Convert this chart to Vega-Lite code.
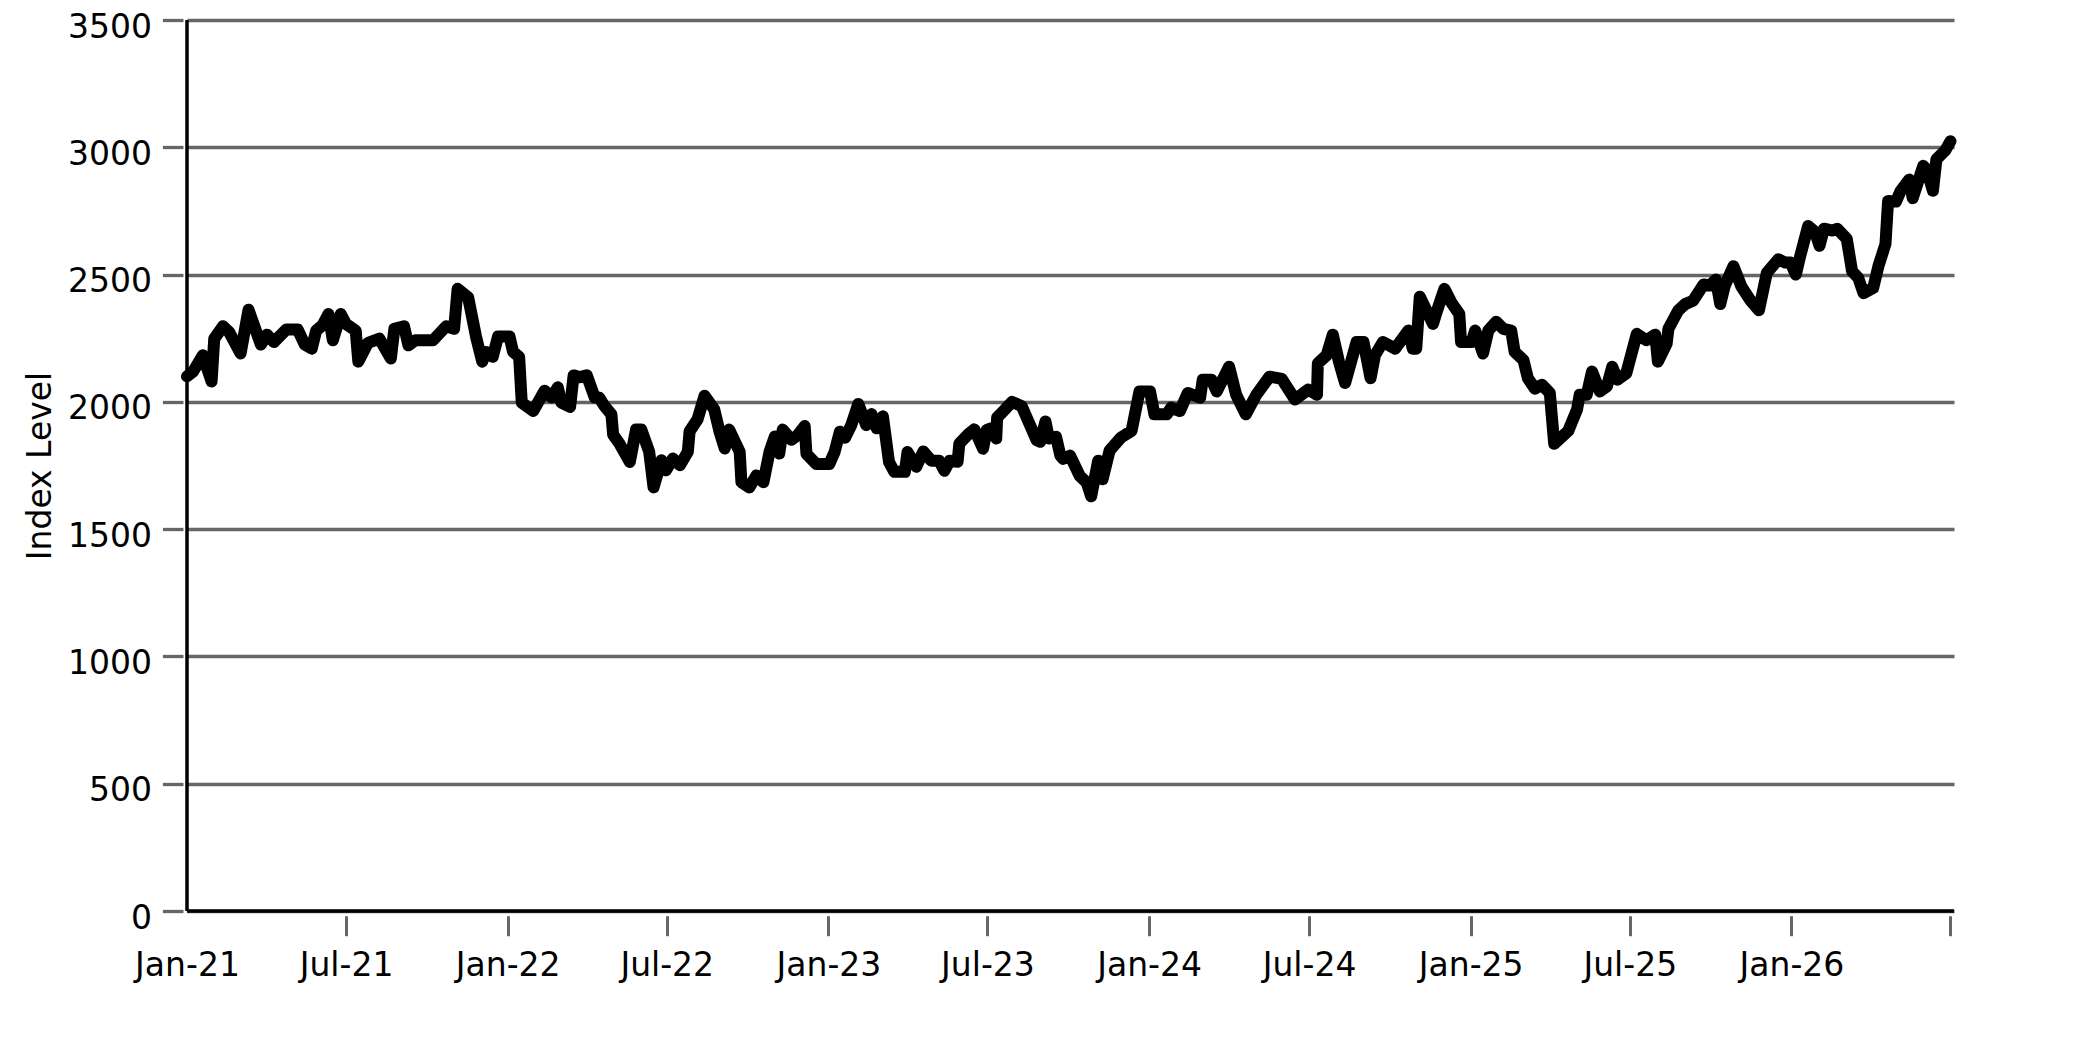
{
  "$schema": "https://vega.github.io/schema/vega-lite/v6.json",
  "width": 1767,
  "height": 891,
  "autosize": "none",
  "padding": {"left": 187, "top": 20, "right": 129, "bottom": 131},
  "config": {"font": "DejaVu Sans", "view": {"stroke": null}},
  "data": {
    "values": [
      {"date": "2021-01-01", "value": 2100}, {"date": "2021-01-08", "value": 2119}, {"date": "2021-01-19", "value": 2183},
      {"date": "2021-01-29", "value": 2080}, {"date": "2021-02-01", "value": 2248}, {"date": "2021-02-11", "value": 2297},
      {"date": "2021-02-18", "value": 2274}, {"date": "2021-03-03", "value": 2190}, {"date": "2021-03-12", "value": 2362},
      {"date": "2021-03-26", "value": 2225}, {"date": "2021-04-02", "value": 2264}, {"date": "2021-04-10", "value": 2235},
      {"date": "2021-04-24", "value": 2284}, {"date": "2021-05-07", "value": 2284}, {"date": "2021-05-15", "value": 2225},
      {"date": "2021-05-23", "value": 2209}, {"date": "2021-05-28", "value": 2280}, {"date": "2021-06-04", "value": 2300},
      {"date": "2021-06-11", "value": 2345}, {"date": "2021-06-16", "value": 2242}, {"date": "2021-06-25", "value": 2345},
      {"date": "2021-07-01", "value": 2306}, {"date": "2021-07-12", "value": 2280}, {"date": "2021-07-15", "value": 2158},
      {"date": "2021-07-26", "value": 2232}, {"date": "2021-08-08", "value": 2248}, {"date": "2021-08-21", "value": 2170},
      {"date": "2021-08-25", "value": 2287}, {"date": "2021-09-05", "value": 2297}, {"date": "2021-09-10", "value": 2222},
      {"date": "2021-09-18", "value": 2242}, {"date": "2021-10-08", "value": 2242}, {"date": "2021-10-23", "value": 2297},
      {"date": "2021-11-01", "value": 2287}, {"date": "2021-11-05", "value": 2444}, {"date": "2021-11-17", "value": 2410},
      {"date": "2021-11-26", "value": 2255}, {"date": "2021-12-03", "value": 2158}, {"date": "2021-12-07", "value": 2196},
      {"date": "2021-12-15", "value": 2177}, {"date": "2021-12-21", "value": 2257}, {"date": "2022-01-03", "value": 2257},
      {"date": "2022-01-07", "value": 2197}, {"date": "2022-01-14", "value": 2177}, {"date": "2022-01-17", "value": 1997},
      {"date": "2022-01-30", "value": 1964}, {"date": "2022-02-12", "value": 2044}, {"date": "2022-02-20", "value": 2017},
      {"date": "2022-02-27", "value": 2057}, {"date": "2022-03-03", "value": 1997}, {"date": "2022-03-13", "value": 1980},
      {"date": "2022-03-17", "value": 2104}, {"date": "2022-03-24", "value": 2097}, {"date": "2022-04-01", "value": 2104},
      {"date": "2022-04-10", "value": 2017}, {"date": "2022-04-15", "value": 2017}, {"date": "2022-04-21", "value": 1984},
      {"date": "2022-04-29", "value": 1951}, {"date": "2022-05-01", "value": 1871}, {"date": "2022-05-08", "value": 1837},
      {"date": "2022-05-20", "value": 1764}, {"date": "2022-05-27", "value": 1891}, {"date": "2022-06-02", "value": 1891},
      {"date": "2022-06-11", "value": 1804}, {"date": "2022-06-16", "value": 1664}, {"date": "2022-06-25", "value": 1771},
      {"date": "2022-06-30", "value": 1731}, {"date": "2022-07-08", "value": 1777}, {"date": "2022-07-16", "value": 1751},
      {"date": "2022-07-25", "value": 1804}, {"date": "2022-07-27", "value": 1884}, {"date": "2022-08-05", "value": 1931},
      {"date": "2022-08-13", "value": 2024}, {"date": "2022-08-24", "value": 1971}, {"date": "2022-08-30", "value": 1884},
      {"date": "2022-09-05", "value": 1817}, {"date": "2022-09-10", "value": 1891}, {"date": "2022-09-22", "value": 1804},
      {"date": "2022-09-24", "value": 1684}, {"date": "2022-10-03", "value": 1664}, {"date": "2022-10-11", "value": 1711},
      {"date": "2022-10-19", "value": 1684}, {"date": "2022-10-26", "value": 1804}, {"date": "2022-11-01", "value": 1864},
      {"date": "2022-11-06", "value": 1797}, {"date": "2022-11-10", "value": 1891}, {"date": "2022-11-20", "value": 1851},
      {"date": "2022-11-27", "value": 1869}, {"date": "2022-12-05", "value": 1905}, {"date": "2022-12-07", "value": 1796},
      {"date": "2022-12-18", "value": 1756}, {"date": "2023-01-02", "value": 1756}, {"date": "2023-01-08", "value": 1803},
      {"date": "2023-01-14", "value": 1883}, {"date": "2023-01-20", "value": 1859}, {"date": "2023-01-27", "value": 1909},
      {"date": "2023-02-04", "value": 1992}, {"date": "2023-02-13", "value": 1909}, {"date": "2023-02-19", "value": 1952},
      {"date": "2023-02-25", "value": 1896}, {"date": "2023-03-04", "value": 1943}, {"date": "2023-03-11", "value": 1763},
      {"date": "2023-03-17", "value": 1725}, {"date": "2023-03-29", "value": 1725}, {"date": "2023-04-01", "value": 1803},
      {"date": "2023-04-11", "value": 1745}, {"date": "2023-04-19", "value": 1805}, {"date": "2023-04-28", "value": 1769},
      {"date": "2023-05-07", "value": 1769}, {"date": "2023-05-13", "value": 1729}, {"date": "2023-05-19", "value": 1769},
      {"date": "2023-05-28", "value": 1765}, {"date": "2023-05-30", "value": 1836}, {"date": "2023-06-09", "value": 1872},
      {"date": "2023-06-16", "value": 1892}, {"date": "2023-06-26", "value": 1816}, {"date": "2023-06-30", "value": 1889},
      {"date": "2023-07-05", "value": 1896}, {"date": "2023-07-11", "value": 1856}, {"date": "2023-07-12", "value": 1939},
      {"date": "2023-07-19", "value": 1963}, {"date": "2023-07-29", "value": 2000}, {"date": "2023-08-09", "value": 1983},
      {"date": "2023-08-26", "value": 1849}, {"date": "2023-08-30", "value": 1843}, {"date": "2023-09-05", "value": 1923},
      {"date": "2023-09-09", "value": 1856}, {"date": "2023-09-17", "value": 1863}, {"date": "2023-09-22", "value": 1789},
      {"date": "2023-09-25", "value": 1776}, {"date": "2023-10-03", "value": 1789}, {"date": "2023-10-14", "value": 1709},
      {"date": "2023-10-22", "value": 1683}, {"date": "2023-10-27", "value": 1629}, {"date": "2023-11-04", "value": 1769},
      {"date": "2023-11-09", "value": 1696}, {"date": "2023-11-17", "value": 1809}, {"date": "2023-11-30", "value": 1860},
      {"date": "2023-12-12", "value": 1886}, {"date": "2023-12-21", "value": 2041}, {"date": "2024-01-02", "value": 2041},
      {"date": "2024-01-07", "value": 1951}, {"date": "2024-01-21", "value": 1951}, {"date": "2024-01-26", "value": 1977},
      {"date": "2024-02-05", "value": 1964}, {"date": "2024-02-14", "value": 2035}, {"date": "2024-02-28", "value": 2016},
      {"date": "2024-03-02", "value": 2087}, {"date": "2024-03-12", "value": 2087}, {"date": "2024-03-18", "value": 2041},
      {"date": "2024-04-01", "value": 2138}, {"date": "2024-04-09", "value": 2028}, {"date": "2024-04-20", "value": 1951},
      {"date": "2024-05-02", "value": 2028}, {"date": "2024-05-17", "value": 2099}, {"date": "2024-05-31", "value": 2090},
      {"date": "2024-06-15", "value": 2009}, {"date": "2024-06-30", "value": 2048}, {"date": "2024-07-10", "value": 2028},
      {"date": "2024-07-11", "value": 2151}, {"date": "2024-07-21", "value": 2183}, {"date": "2024-07-28", "value": 2264},
      {"date": "2024-08-04", "value": 2158}, {"date": "2024-08-11", "value": 2074}, {"date": "2024-08-24", "value": 2235},
      {"date": "2024-09-01", "value": 2235}, {"date": "2024-09-09", "value": 2093}, {"date": "2024-09-14", "value": 2183},
      {"date": "2024-09-23", "value": 2235}, {"date": "2024-10-07", "value": 2209}, {"date": "2024-10-22", "value": 2280},
      {"date": "2024-10-27", "value": 2209}, {"date": "2024-10-31", "value": 2209}, {"date": "2024-11-04", "value": 2413},
      {"date": "2024-11-19", "value": 2306}, {"date": "2024-11-23", "value": 2351}, {"date": "2024-12-02", "value": 2444},
      {"date": "2024-12-10", "value": 2390}, {"date": "2024-12-19", "value": 2345}, {"date": "2024-12-21", "value": 2235},
      {"date": "2025-01-02", "value": 2235}, {"date": "2025-01-06", "value": 2280}, {"date": "2025-01-15", "value": 2190},
      {"date": "2025-01-21", "value": 2280}, {"date": "2025-01-30", "value": 2315}, {"date": "2025-02-07", "value": 2287},
      {"date": "2025-02-16", "value": 2280}, {"date": "2025-02-20", "value": 2196}, {"date": "2025-03-02", "value": 2164},
      {"date": "2025-03-07", "value": 2093}, {"date": "2025-03-15", "value": 2052}, {"date": "2025-03-23", "value": 2067},
      {"date": "2025-04-01", "value": 2035}, {"date": "2025-04-06", "value": 1835}, {"date": "2025-04-22", "value": 1886},
      {"date": "2025-05-02", "value": 1970}, {"date": "2025-05-05", "value": 2028}, {"date": "2025-05-13", "value": 2028},
      {"date": "2025-05-19", "value": 2119}, {"date": "2025-05-28", "value": 2041}, {"date": "2025-06-05", "value": 2061},
      {"date": "2025-06-11", "value": 2138}, {"date": "2025-06-17", "value": 2087}, {"date": "2025-06-27", "value": 2112},
      {"date": "2025-07-09", "value": 2267}, {"date": "2025-07-20", "value": 2242}, {"date": "2025-07-30", "value": 2264},
      {"date": "2025-08-02", "value": 2158}, {"date": "2025-08-12", "value": 2229}, {"date": "2025-08-14", "value": 2287},
      {"date": "2025-08-25", "value": 2358}, {"date": "2025-09-02", "value": 2384}, {"date": "2025-09-11", "value": 2397},
      {"date": "2025-09-23", "value": 2461}, {"date": "2025-09-30", "value": 2457}, {"date": "2025-10-07", "value": 2481},
      {"date": "2025-10-12", "value": 2384}, {"date": "2025-10-17", "value": 2455}, {"date": "2025-10-27", "value": 2533},
      {"date": "2025-11-05", "value": 2453}, {"date": "2025-11-15", "value": 2400}, {"date": "2025-11-25", "value": 2360},
      {"date": "2025-12-04", "value": 2507}, {"date": "2025-12-17", "value": 2560}, {"date": "2025-12-25", "value": 2547},
      {"date": "2025-12-31", "value": 2547}, {"date": "2026-01-06", "value": 2500}, {"date": "2026-01-11", "value": 2573},
      {"date": "2026-01-20", "value": 2691}, {"date": "2026-01-28", "value": 2667}, {"date": "2026-02-02", "value": 2613},
      {"date": "2026-02-07", "value": 2680}, {"date": "2026-02-17", "value": 2673}, {"date": "2026-02-22", "value": 2680},
      {"date": "2026-03-05", "value": 2640}, {"date": "2026-03-11", "value": 2513}, {"date": "2026-03-18", "value": 2487},
      {"date": "2026-03-24", "value": 2427}, {"date": "2026-04-04", "value": 2447}, {"date": "2026-04-10", "value": 2533},
      {"date": "2026-04-18", "value": 2620}, {"date": "2026-04-21", "value": 2789}, {"date": "2026-04-30", "value": 2787},
      {"date": "2026-05-05", "value": 2827}, {"date": "2026-05-15", "value": 2873}, {"date": "2026-05-19", "value": 2800},
      {"date": "2026-05-31", "value": 2927}, {"date": "2026-06-04", "value": 2913}, {"date": "2026-06-11", "value": 2829},
      {"date": "2026-06-15", "value": 2953}, {"date": "2026-06-25", "value": 2987}, {"date": "2026-07-01", "value": 3024}
    ]
  },
  "layer": [
    {
      "mark": {"type": "line", "color": "black", "strokeWidth": 12, "strokeJoin": "round", "strokeCap": "round"},
      "encoding": {
        "x": {
          "field": "date",
          "type": "temporal",
          "scale": {
            "type": "utc",
            "domain": [
              {"year": 2021, "month": 1, "date": 1, "utc": true},
              {"year": 2026, "month": 7, "date": 5, "utc": true}
            ]
          },
          "axis": {
            "values": [
              {"year": 2021, "month": 1, "date": 1, "utc": true}, {"year": 2021, "month": 7, "date": 1, "utc": true},
              {"year": 2022, "month": 1, "date": 1, "utc": true}, {"year": 2022, "month": 7, "date": 1, "utc": true},
              {"year": 2023, "month": 1, "date": 1, "utc": true}, {"year": 2023, "month": 7, "date": 1, "utc": true},
              {"year": 2024, "month": 1, "date": 1, "utc": true}, {"year": 2024, "month": 7, "date": 1, "utc": true},
              {"year": 2025, "month": 1, "date": 1, "utc": true}, {"year": 2025, "month": 7, "date": 1, "utc": true},
              {"year": 2026, "month": 1, "date": 1, "utc": true}, {"year": 2026, "month": 7, "date": 1, "utc": true}
            ],
            "labelExpr": "datum.value > utc(2026, 3, 1) ? '' : utcFormat(datum.value, '%b-%y')",
            "tickOpacity": {"condition": {"test": "datum.value < utc(2021, 1, 1)", "value": 0}, "value": 1},
            "domain": false,
            "grid": false,
            "offset": 4.7,
            "tickSize": 20,
            "tickWidth": 3,
            "tickColor": "#666666",
            "labelFontSize": 33,
            "labelColor": "black",
            "labelPadding": 14,
            "labelFlush": false,
            "labelOverlap": false,
            "title": null
          }
        },
        "y": {
          "field": "value",
          "type": "quantitative",
          "scale": {"domain": [0, 3500], "nice": false},
          "axis": {
            "values": [0, 500, 1000, 1500, 2000, 2500, 3000, 3500],
            "format": "d",
            "domain": false,
            "grid": true,
            "gridColor": "#666666",
            "gridWidth": 3.3,
            "gridOpacity": 1,
            "offset": 4,
            "tickSize": 20.6,
            "tickWidth": 3.3,
            "tickColor": "#666666",
            "labelFontSize": 33,
            "labelColor": "black",
            "labelPadding": 11,
            "labelOffset": 7,
            "labelFlush": false,
            "labelOverlap": false,
            "title": "Index Level",
            "titleFontSize": 33,
            "titleFontWeight": "normal",
            "titleColor": "black",
            "titlePadding": 10
          }
        }
      }
    },
    {
      "data": {"values": [{}]},
      "mark": {"type": "rule", "color": "black", "strokeWidth": 3.5},
      "encoding": {"x": {"datum": {"year": 2021, "month": 1, "date": 1, "utc": true}, "type": "temporal"}}
    },
    {
      "data": {"values": [{}]},
      "mark": {"type": "rule", "color": "black", "strokeWidth": 3.5},
      "encoding": {"y": {"datum": 0, "type": "quantitative"}}
    }
  ]
}
